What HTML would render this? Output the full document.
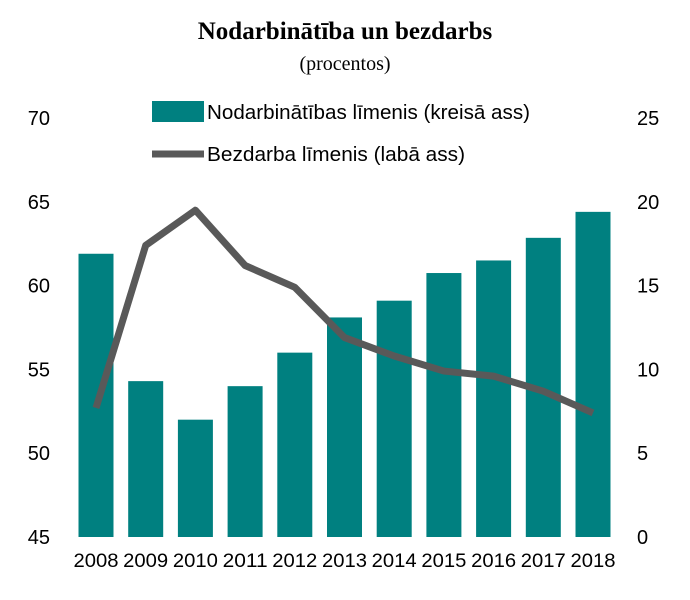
<!DOCTYPE html>
<html><head><meta charset="utf-8">
<style>
body{margin:0;background:#fff;}
svg text{font-family:"Liberation Sans",Arial,sans-serif;}
</style></head>
<body>
<svg id="chart" width="690" height="595" viewBox="0 0 690 595">
<text x="345" y="39" text-anchor="middle" style="font-family:'Liberation Serif',serif;font-weight:bold;font-size:25px">Nodarbinātība un bezdarbs</text>
<text x="345" y="70" text-anchor="middle" style="font-family:'Liberation Serif',serif;font-size:20px">(procentos)</text>
<g>
<rect x="152" y="101" width="52" height="21" fill="#008080"/>
<text x="207" y="119" font-size="20" textLength="323" lengthAdjust="spacingAndGlyphs">Nodarbinātības līmenis (kreisā ass)</text>
<line x1="152" y1="154" x2="204" y2="154" stroke="#595959" stroke-width="7"/>
<text x="207" y="161" font-size="20" textLength="258" lengthAdjust="spacingAndGlyphs">Bezdarba līmenis (labā ass)</text>
</g>
<g id="leftTicks"></g><g id="rightTicks"></g><g id="bars"></g><g id="xlabels"></g><g id="line"></g>
</svg>
<script>
const years=["2008","2009","2010","2011","2012","2013","2014","2015","2016","2017","2018"];
const employment=[61.9,54.3,52.0,54.0,56.0,58.1,59.1,60.75,61.5,62.85,64.4];
const unemployment=[7.7,17.4,19.5,16.2,14.9,11.9,10.8,9.9,9.6,8.7,7.4];
const leftTickValues=[45,50,55,60,65,70];
const rightTickValues=[0,5,10,15,20,25];
(function(){
const NS="http://www.w3.org/2000/svg";
const plotTop=118,plotBottom=537,x0=96,step=49.7,bw=35;
const yL=v=>plotBottom-(v-45)/25*(plotBottom-plotTop);
const yR=v=>plotBottom-v/25*(plotBottom-plotTop);
const xC=i=>x0+i*step;
function mk(tag,attrs,parent){const e=document.createElementNS(NS,tag);for(const k in attrs)e.setAttribute(k,attrs[k]);document.getElementById(parent).appendChild(e);return e;}
leftTickValues.forEach(v=>{const t=mk("text",{x:50,y:yL(v)+7,"text-anchor":"end","font-size":20},"leftTicks");t.textContent=v;

});
rightTickValues.forEach(v=>{const t=mk("text",{x:637,y:yR(v)+7,"text-anchor":"start","font-size":20},"rightTicks");t.textContent=v;

});
employment.forEach((v,i)=>{const r=mk("rect",{x:xC(i)-bw/2,y:yL(v),width:bw,height:plotBottom-yL(v),fill:"#008080"},"bars");

});
years.forEach((y,i)=>{const t=mk("text",{x:xC(i),y:567,"text-anchor":"middle","font-size":19,"textLength":45,"lengthAdjust":"spacingAndGlyphs"},"xlabels");t.textContent=y;

});
const p=mk("polyline",{points:unemployment.map((v,i)=>xC(i)+","+yR(v)).join(" "),fill:"none",stroke:"#595959","stroke-width":7,"stroke-linejoin":"round"},"line");


})();
</script>
</body></html>
